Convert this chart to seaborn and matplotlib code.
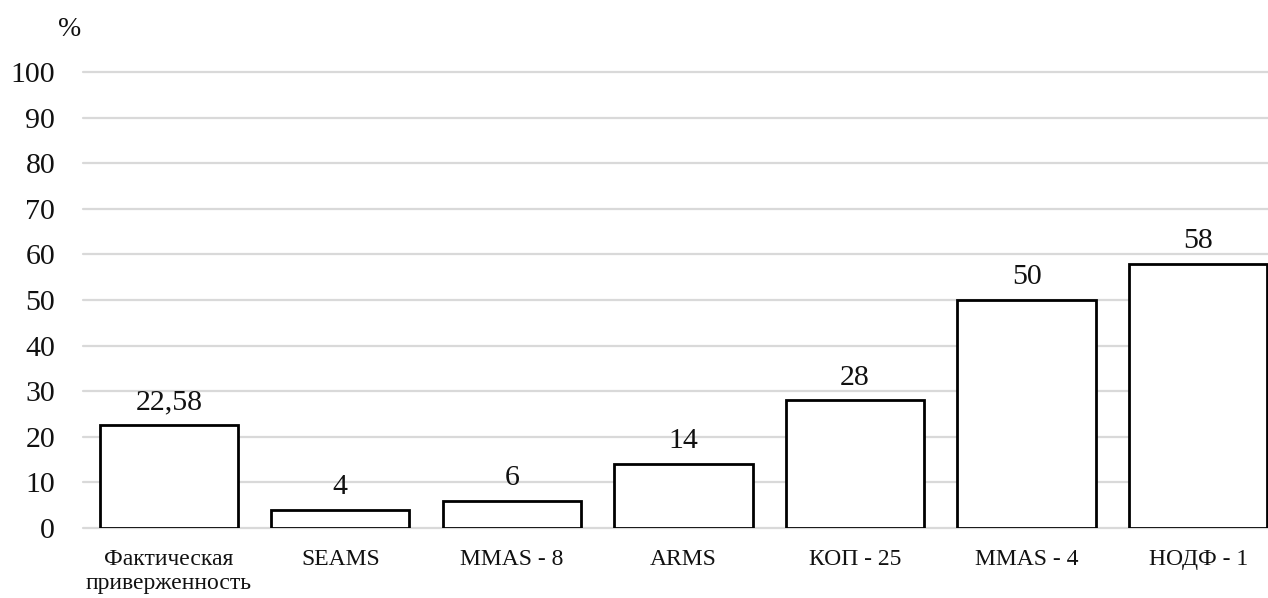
import matplotlib
matplotlib.use("Agg")
import matplotlib.pyplot as plt
import seaborn as sns
import pandas as pd

categories = ["Фактическая\nприверженность", "SEAMS", "MMAS - 8", "ARMS",
              "КОП - 25", "MMAS - 4", "НОДФ - 1"]
values = [22.58, 4, 6, 14, 28, 50, 58]
value_labels = ["22,58", "4", "6", "14", "28", "50", "58"]
y_ticks = [0, 10, 20, 30, 40, 50, 60, 70, 80, 90, 100]

sns.set_theme(style="white")
plt.rcParams["font.family"] = ["Liberation Serif", "DejaVu Serif"]

df = pd.DataFrame({"cat": categories, "val": values})

fig = plt.figure(figsize=(12.68, 5.98), dpi=100)
ax = fig.add_axes([83 / 1268, 70 / 598, (1268 - 83) / 1268, (528 - 72) / 598])

sns.barplot(data=df, x="cat", y="val", ax=ax, color="white",
            edgecolor="black", linewidth=2.0, width=0.806, saturation=1)

ax.set_ylim(0, 100)
ax.set_xlim(-0.5, 6.407)
ax.set_yticks(y_ticks)
ax.yaxis.grid(True, color="#d9d9d9", linewidth=1.6)
for gl in ax.get_ygridlines():
    gl.set_clip_on(False)
ax.set_axisbelow(True)
for s in ax.spines.values():
    s.set_visible(False)

ax.set_xlabel("")
ax.set_ylabel("")
ax.tick_params(axis="y", length=0, pad=20, labelsize=21.5, labelcolor="#111111")
ax.tick_params(axis="x", length=0, pad=15, labelsize=17, labelcolor="#111111")
for t in ax.get_xticklabels():
    t.set_verticalalignment("top")
    t.set_linespacing(1.2)

ax.bar_label(ax.containers[0], labels=value_labels, padding=7,
             fontsize=21.5, color="#111111")

fig.text(70 / 1268, 1 - 30 / 598, "%", fontsize=20, ha="center", va="center",
         color="#111111")

fig.savefig("out.png", dpi=100, facecolor="white")
